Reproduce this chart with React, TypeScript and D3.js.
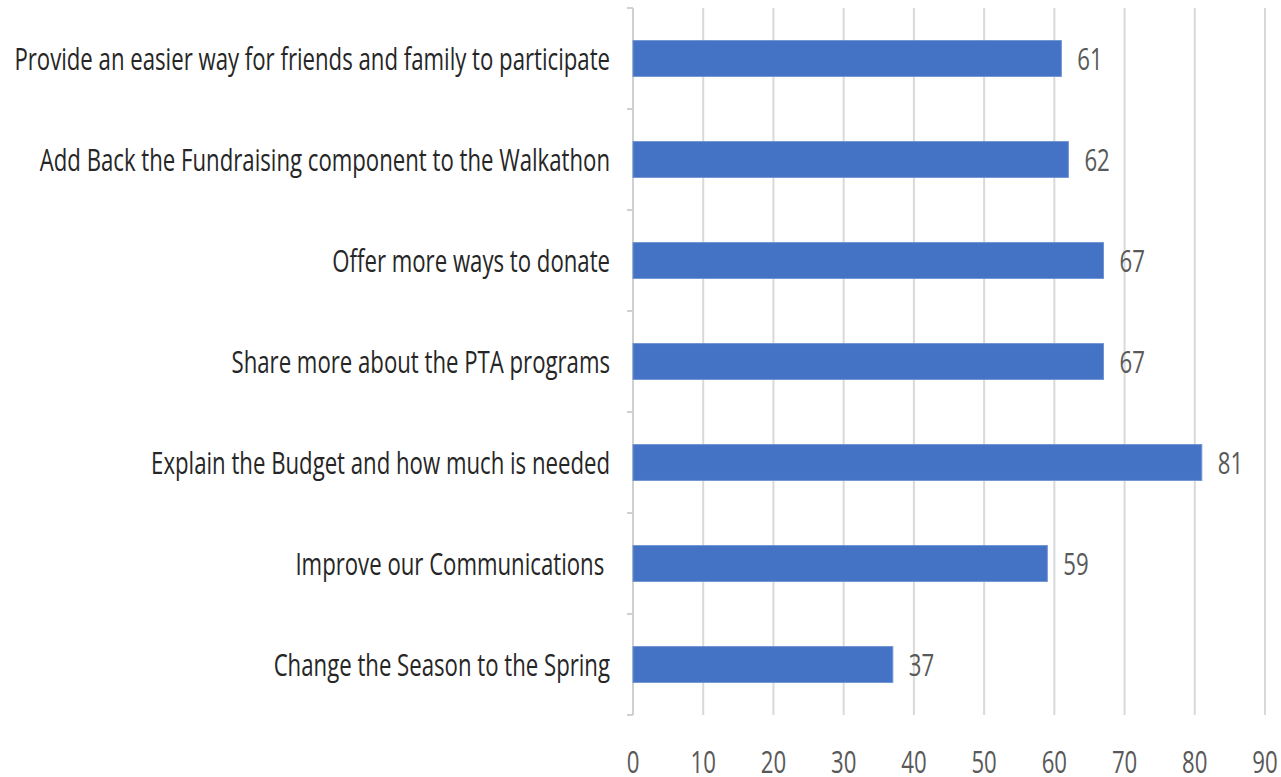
import React, { useEffect, useRef } from "react";
import * as d3 from "d3";

const categories: string[] = [
  "Provide an easier way for friends and family to participate",
  "Add Back the Fundraising component to the Walkathon",
  "Offer more ways to donate",
  "Share more about the PTA programs",
  "Explain the Budget and how much is needed",
  "Improve our Communications ",
  "Change the Season to the Spring",
];
const values: number[] = [61, 62, 67, 67, 81, 59, 37];
const xTicks: number[] = [0, 10, 20, 30, 40, 50, 60, 70, 80, 90];

const W = 1281;
const H = 777;
const FONT = "'Open Sans', 'Noto Sans', sans-serif";

export default function App() {
  const ref = useRef<SVGSVGElement | null>(null);

  useEffect(() => {
    const svg = d3.select(ref.current);
    svg.selectAll("*").remove();

    const x = d3.scaleLinear().domain([0, 90]).range([633, 1265]);
    const y = d3
      .scaleBand<string>()
      .domain(categories)
      .range([8, 715])
      .paddingInner(0.645)
      .paddingOuter(0.3225);

    const fontSize = 31;

    // measure for horizontal compression
    const probe = svg
      .append("text")
      .attr("font-family", FONT)
      .attr("font-size", fontSize)
      .text(categories[0]);
    const w = (probe.node() as SVGTextElement).getComputedTextLength();
    probe.remove();
    const k = 596 / w;

    const g = svg.append("g");

    // gridlines
    g.selectAll("line.grid")
      .data(xTicks.filter((t) => t > 0))
      .enter()
      .append("line")
      .attr("x1", (d) => x(d))
      .attr("x2", (d) => x(d))
      .attr("y1", 8)
      .attr("y2", 715)
      .attr("stroke", "#d9d9d9")
      .attr("stroke-width", 2);

    // category axis
    const step = y.step();
    const boundaries = d3.range(categories.length + 1).map((i) => 8 + i * step);
    g.append("line")
      .attr("x1", x(0))
      .attr("x2", x(0))
      .attr("y1", 8)
      .attr("y2", 715)
      .attr("stroke", "#d0d0d0")
      .attr("stroke-width", 2);
    g.selectAll("line.tk")
      .data(boundaries)
      .enter()
      .append("line")
      .attr("x1", x(0) - 6)
      .attr("x2", x(0))
      .attr("y1", (d) => d)
      .attr("y2", (d) => d)
      .attr("stroke", "#d0d0d0")
      .attr("stroke-width", 2);

    // bars
    g.selectAll("rect.bar")
      .data(values)
      .enter()
      .append("rect")
      .attr("x", x(0))
      .attr("y", (_, i) => y(categories[i])!)
      .attr("width", (d) => x(d) - x(0))
      .attr("height", y.bandwidth())
      .attr("fill", "#4472c4")
      .attr("stroke", "#6f93d3")
      .attr("stroke-width", 1);

    // value labels
    g.selectAll("text.val")
      .data(values)
      .enter()
      .append("text")
      .attr(
        "transform",
        (d, i) =>
          `translate(${x(d) + 16},${y(categories[i])! + y.bandwidth() / 2 + 11}) scale(${k},1)`
      )
      .attr("font-family", FONT)
      .attr("font-size", fontSize)
      .attr("fill", "#595959")
      .text((d) => String(d));

    // category labels
    g.selectAll("text.cat")
      .data(categories)
      .enter()
      .append("text")
      .attr(
        "transform",
        (d) => `translate(610,${y(d)! + y.bandwidth() / 2 + 11}) scale(${k},1)`
      )
      .attr("text-anchor", "end")
      .style("white-space", "pre")
      .attr("font-family", FONT)
      .attr("font-size", fontSize)
      .attr("fill", "#262626")
      .text((d) => d);

    // x tick labels
    g.selectAll("text.xt")
      .data(xTicks)
      .enter()
      .append("text")
      .attr("transform", (d) => `translate(${x(d)},773) scale(${k},1)`)
      .attr("text-anchor", "middle")
      .attr("font-family", FONT)
      .attr("font-size", fontSize)
      .attr("fill", "#595959")
      .text((d) => String(d));
  }, []);

  return (
    <svg
      ref={ref}
      width={W}
      height={H}
      style={{ position: "absolute", left: 0, top: 0, background: "#fff" }}
    />
  );
}
